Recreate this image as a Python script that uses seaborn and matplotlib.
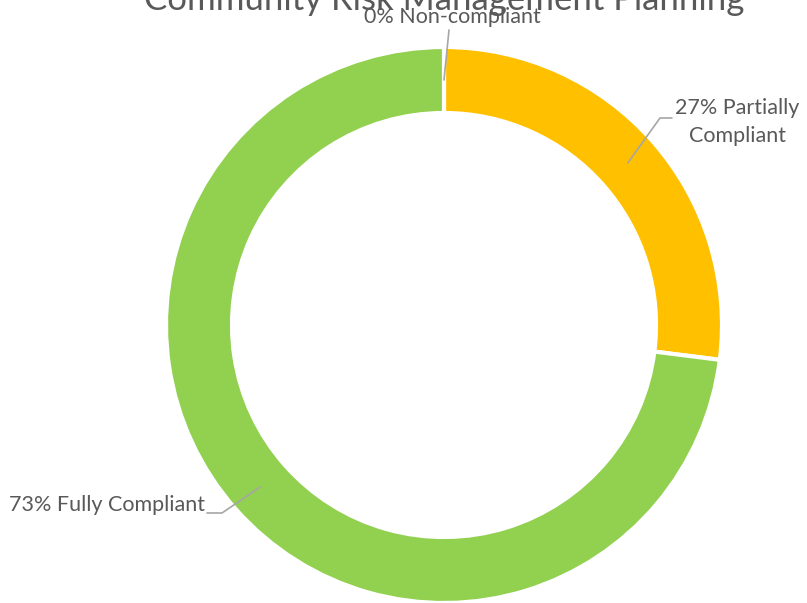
import numpy as np
import matplotlib.pyplot as plt
import seaborn as sns

categories = ['Non-compliant', 'Partially\nCompliant', 'Fully Compliant']
values = [0, 27, 73]
colors = ['#FF0000', '#FFC000', '#92D050']
title = 'Community Risk Management Planning'

sns.set_theme(style="white")
plt.rcParams['font.family'] = ['Lato', 'DejaVu Sans']

fig = plt.figure(figsize=(8.07, 6.03), dpi=100)
ax = fig.add_axes([0, 0, 1, 1])

center = (444, 278)
radius = 278
width = 66
wedges, _ = ax.pie(values, colors=colors, startangle=90, counterclock=False,
                   center=center, radius=radius,
                   wedgeprops=dict(width=width, edgecolor='white', linewidth=3))
ax.set_xlim(0, 807)
ax.set_ylim(0, 603)
ax.set_aspect('equal')
ax.axis('off')

text_color = '#595959'
line_color = '#A6A6A6'
label_pos = [(452, 586, 'center'), (737, 481, 'center'), (205, 98, 'right')]
r_mid = radius - width / 2
for w, cat, val, (tx, ty, ha) in zip(wedges, categories, values, label_pos):
    ang = np.deg2rad((w.theta1 + w.theta2) / 2)
    ax0 = center[0] + r_mid * np.cos(ang)
    ay0 = center[1] + r_mid * np.sin(ang)
    label = f'{val}% {cat}'
    ax.text(tx, ty, label, ha=ha, va='center', fontsize=15.5, color=text_color,
            linespacing=1.55)
    if val == 0:
        ax.plot([ax0, ax0 + 5], [ay0, 573], color=line_color, lw=1.2)
    elif ha == 'center':
        ax.plot([ax0, 660, 672], [ay0, 485, 485], color=line_color, lw=1.2)
    else:
        ax.plot([ax0, 222, 207], [ay0, 90, 90], color=line_color, lw=1.2)

ax.text(444, 593, title, ha='center', va='baseline', fontsize=25, color=text_color)

fig.savefig('out.png', dpi=100)
